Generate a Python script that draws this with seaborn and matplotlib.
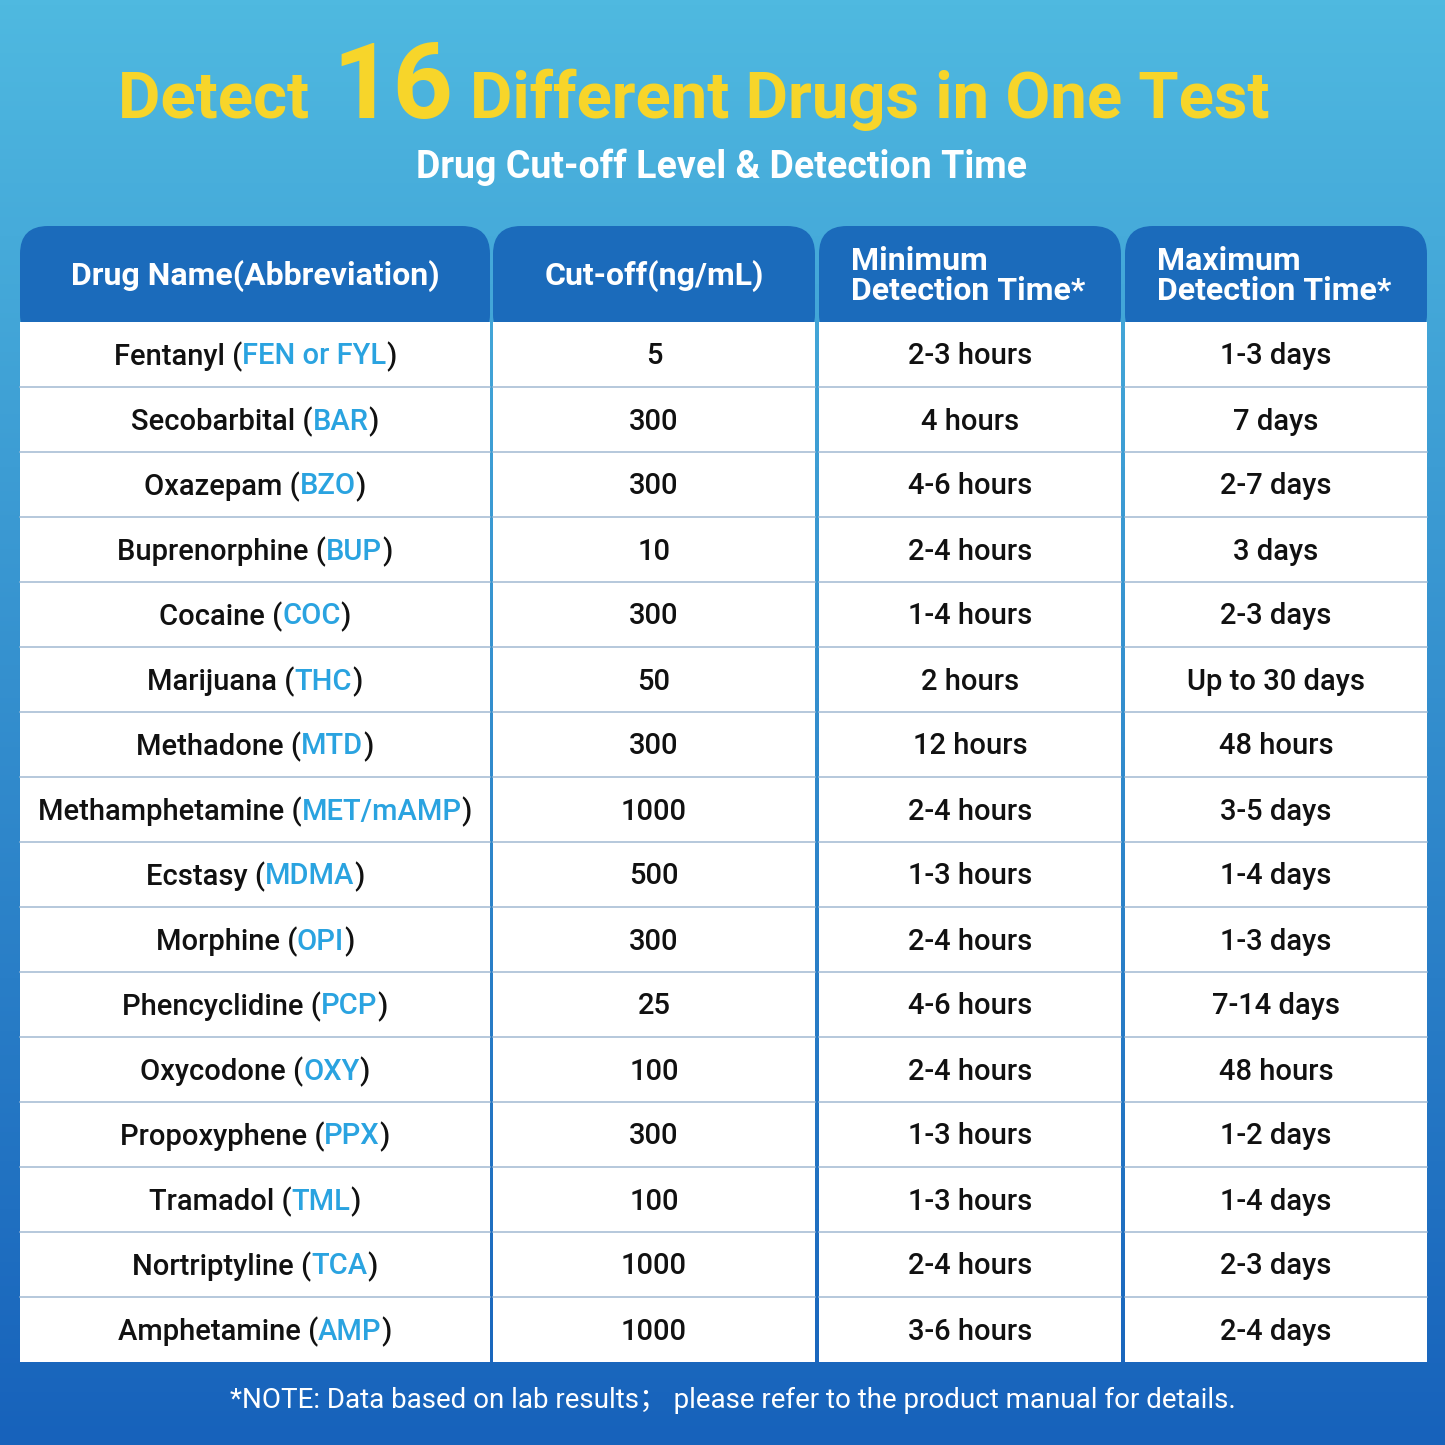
import numpy as np
import matplotlib
matplotlib.use("Agg")
import matplotlib.pyplot as plt
import seaborn as sns
from matplotlib.patches import FancyBboxPatch, Rectangle

sns.set_theme(style="white")
plt.rcParams['font.family'] = ['Roboto', 'DejaVu Sans']

drug_names = ["Fentanyl", "Secobarbital", "Oxazepam", "Buprenorphine", "Cocaine", "Marijuana",
              "Methadone", "Methamphetamine", "Ecstasy", "Morphine", "Phencyclidine", "Oxycodone",
              "Propoxyphene", "Tramadol", "Nortriptyline", "Amphetamine"]
abbrevs = ["FEN or FYL", "BAR", "BZO", "BUP", "COC", "THC", "MTD", "MET/mAMP", "MDMA", "OPI",
           "PCP", "OXY", "PPX", "TML", "TCA", "AMP"]
cutoffs = ["5", "300", "300", "10", "300", "50", "300", "1000", "500", "300", "25", "100",
           "300", "100", "1000", "1000"]
min_times = ["2-3 hours", "4 hours", "4-6 hours", "2-4 hours", "1-4 hours", "2 hours", "12 hours",
             "2-4 hours", "1-3 hours", "2-4 hours", "4-6 hours", "2-4 hours", "1-3 hours",
             "1-3 hours", "2-4 hours", "3-6 hours"]
max_times = ["1-3 days", "7 days", "2-7 days", "3 days", "2-3 days", "Up to 30 days", "48 hours",
             "3-5 days", "1-4 days", "1-3 days", "7-14 days", "48 hours", "1-2 days", "1-4 days",
             "2-3 days", "2-4 days"]
headers = ["Drug Name(Abbreviation)", "Cut-off(ng/mL)", "Minimum\nDetection Time*",
           "Maximum\nDetection Time*"]

W = 1445
fig = plt.figure(figsize=(14.45, 14.45), dpi=100)
ax = fig.add_axes([0, 0, 1, 1])
ax.set_xlim(0, W); ax.set_ylim(W, 0); ax.axis("off")

# gradient background
top = np.array([0x4f, 0xb9, 0xe0]) / 255
bot = np.array([0x17, 0x62, 0xbb]) / 255
t = np.linspace(0, 1, 300)[:, None]
grad = (top * (1 - t) + bot * t)[:, None, :].repeat(2, axis=1)
ax.imshow(grad, extent=[0, W, W, 0], aspect="auto", zorder=0)

yellow = "#f7d52a"
ax.text(325, 118, "Detect ", color=yellow, fontsize=47, fontweight="bold", ha="right", va="baseline")
ax.text(393, 118, "16", color=yellow, fontsize=76, fontweight="bold", ha="center", va="baseline")
ax.text(470, 118, "Different Drugs in One Test", color=yellow, fontsize=47, fontweight="bold",
        ha="left", va="baseline")
ax.text(722, 178, "Drug Cut-off Level & Detection Time", color="white", fontsize=27,
        fontweight="bold", ha="center", va="baseline")

cols = [(20, 490), (493, 815), (819, 1121), (1125, 1427)]
hy0, hy1 = 226, 322
ty1 = 1362
nrow = len(drug_names)
rh = (ty1 - hy1) / nrow
hdr = "#1b6bbb"
for i, (x0, x1) in enumerate(cols):
    ax.add_patch(FancyBboxPatch((x0, hy0), x1 - x0, hy1 - hy0 + 20,
                                boxstyle="round,pad=0,rounding_size=28", fc=hdr, ec="none", zorder=2))
    ax.add_patch(Rectangle((x0, hy1), x1 - x0, ty1 - hy1, fc="white", ec="none", zorder=3))
    if i < 2:
        ax.text((x0 + x1) / 2, (hy0 + hy1) / 2 + 2, headers[i], color="white", fontsize=23,
                fontweight="bold", ha="center", va="center", zorder=4)
    else:
        ax.text(x0 + 32, (hy0 + hy1) / 2 + 2, headers[i], color="white", fontsize=23,
                fontweight="bold", ha="left", va="center", linespacing=1.0, zorder=4)
    for r in range(1, nrow):
        y = hy1 + r * rh
        ax.plot([x0, x1], [y, y], color="#a9bfd6", lw=1.2, zorder=4)

fig.canvas.draw()
rend = fig.canvas.get_renderer()
blue = "#2aa3e0"
fs = 21
for r in range(nrow):
    yc = hy1 + (r + 0.5) * rh + 2
    parts = [(drug_names[r] + " (", "#111111"), (abbrevs[r], blue), (")", "#111111")]
    objs = [ax.text(0, yc, s, color=c, fontsize=fs, fontweight="medium", ha="left", va="center",
                    zorder=5) for s, c in parts]
    widths = []
    for o in objs:
        bb = o.get_window_extent(rend)
        widths.append(bb.width)
    total = sum(widths)
    x = (cols[0][0] + cols[0][1]) / 2 - total / 2
    for o, w in zip(objs, widths):
        o.set_x(x); x += w
    for ci, vals in zip([1, 2, 3], [cutoffs, min_times, max_times]):
        ax.text((cols[ci][0] + cols[ci][1]) / 2, yc, vals[r], color="#111111", fontsize=fs,
                fontweight="medium", ha="center", va="center", zorder=5)

ax.text(733, 1400, "*NOTE: Data based on lab results\uff1b please refer to the product manual for details.",
        color="white", fontsize=20, ha="center", va="center",
        family=['Roboto', 'Noto Sans CJK SC', 'DejaVu Sans'], zorder=5)

fig.savefig("out.png", dpi=100)
